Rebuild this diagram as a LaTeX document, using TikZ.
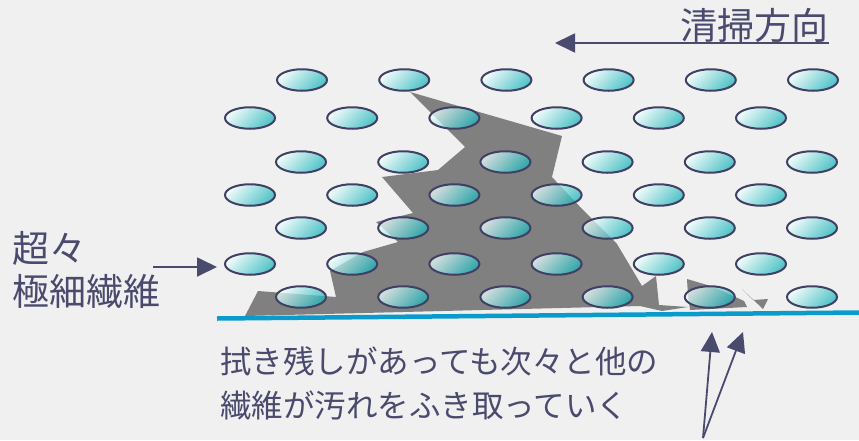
\documentclass[tikz,border=0pt]{standalone}
\usepackage{fontspec}
\newfontfamily\jpfont{Noto Sans CJK JP}
\usetikzlibrary{shapes.geometric,arrows.meta}
\definecolor{paper}{RGB}{240,240,240}
\definecolor{ink}{RGB}{74,74,110}
\definecolor{fibrelight}{RGB}{240,255,255}
\definecolor{fibredark}{RGB}{25,180,185}
\definecolor{fibreline}{RGB}{64,64,100}
\definecolor{soil}{RGB}{128,128,128}
\definecolor{cloth}{RGB}{10,155,205}
\begin{document}
\begin{tikzpicture}[x=1pt,y=-1pt,
  fibre/.style={ellipse, draw=fibreline, line width=2pt,
    minimum width=50pt, minimum height=21.5pt, inner sep=0pt,
    top color=fibrelight, bottom color=fibredark, shading angle=45,
    fill opacity=0.74, draw opacity=1},
  pointer/.style={draw=ink, line width=1.8pt, -{Triangle[length=20pt,width=19pt]}},
  caption/.style={text=ink, inner sep=0pt}]
\useasboundingbox (0,0) rectangle (859,440);
\fill[paper] (0,0) rectangle (859,440);

% dirt left behind on the surface
\fill[soil] (410,92) -- (562,136) -- (552,177) -- (583,210) -- (617,244)
  -- (642,286) -- (656,276) -- (659,305) -- (688,307) -- (662,311)
  -- (640,306) -- (245,316) -- (258,291) -- (336,297) -- (330,271)
  -- (363,252) -- (398,242) -- (376,222) -- (413,213) -- (382,177)
  -- (438,170) -- (465,147) -- cycle;
\fill[soil] (687,279) -- (714,287) -- (744,301) -- (747,307) -- (690,310) -- (688,296) -- cycle;
\fill[soil] (742,289) -- (753,300) -- (768,299) -- (763,309) -- cycle;

% wiped surface
\draw[cloth, line width=4.5pt] (217,318.5) -- (859,312.5);

% ultra-fine fibres, staggered rows
\foreach \r/\yy/\xs in {1/80/302, 2/118/250, 3/162/301, 4/195/250, 5/228/301, 6/264/250, 7/297/301}
  \foreach \c in {1,...,6}
    \node[fibre] (f-\r-\c) at ({\xs+102.2*(\c-1)},\yy) {};

% cleaning direction
\node[caption, anchor=south east, font=\jpfont\fontsize{37}{37}\selectfont] (sweep) at (829,43) {清掃方向};
\coordinate (sweep-tip) at (555,43);
\draw[pointer] (sweep.south east) -- (sweep-tip);

% fibre label
\node[caption, anchor=north west, align=left, font=\jpfont\fontsize{37}{43}\selectfont] (fibre-name) at (12,231) {超々\\極細繊維};
\coordinate (fibre-tail) at (153,267);
\draw[pointer, shorten >=7pt] (fibre-tail) -- (fibre-tail -| f-6-1.west);

% explanation
\node[caption, anchor=north west, align=left, font=\jpfont\fontsize{31.5}{44}\selectfont] (wipe-note) at (220,346) {拭き残しがあっても次々と他の\\繊維が汚れをふき取っていく};
\coordinate (note-tail) at (703,438);
\coordinate (tip-a) at (712,332);
\coordinate (tip-b) at (743,332);
\draw[pointer] (note-tail) -- (tip-a);
\draw[pointer] (note-tail) -- (tip-b);
\end{tikzpicture}
\end{document}
